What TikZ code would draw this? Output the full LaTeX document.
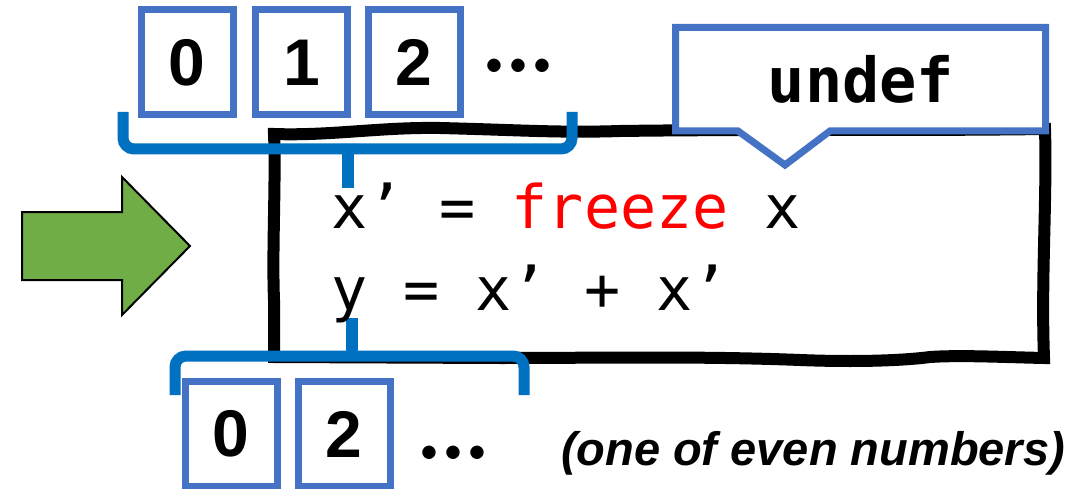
\documentclass[tikz,border=0pt]{standalone}
\usepackage{fontspec}
\setmainfont{Liberation Sans}
\newfontfamily\codefont{DejaVu Sans Mono}
\definecolor{boxblue}{RGB}{68,114,196}
\definecolor{braceblue}{RGB}{0,112,192}
\definecolor{arrowgreen}{RGB}{112,173,71}
\definecolor{codered}{RGB}{255,0,0}
\begin{document}
\begin{tikzpicture}[x=1pt,y=-1pt,
  numbox/.style={draw=boxblue, line width=7pt, minimum width=92pt, minimum height=105pt, inner sep=0pt, fill=white,
    font=\fontsize{66}{70}\selectfont\bfseries},
  dots/.style={anchor=base west, inner sep=0pt, font=\fontfamily{lmr}\fontsize{86}{90}\selectfont\bfseries},
  bracestyle/.style={draw=braceblue, line width=11pt, rounded corners=11pt},
  codeline/.style={anchor=base west, inner sep=0pt, font=\codefont\fontsize{60}{72}\selectfont},
  codebox/.style={draw=black, line width=12pt, line join=miter},
  calloutstyle/.style={draw=boxblue, line width=7pt, fill=white, line join=miter}]
\useasboundingbox (0,0) rectangle (1089,489);
% green arrow
\draw[fill=arrowgreen, draw=black, line width=2pt, line join=miter]
  (22,212) -- (122,212) -- (122,177) -- (190,246) -- (122,315) -- (122,280) -- (22,280) -- cycle;
% hand-drawn code box
\draw[codebox] (274,357) -- (274,300) .. controls (272,250) and (276,180) .. (274,134)
  .. controls (330,136) and (380,127) .. (440,128)
  .. controls (520,130) and (560,133) .. (620,131)
  .. controls (760,129) and (900,131) .. (1045,129)
  .. controls (1047,200) and (1041,280) .. (1044,358)
  .. controls (1000,357) and (960,355) .. (930,357)
  .. controls (900,361) and (850,362) .. (800,360)
  .. controls (700,356) and (600,358) .. (500,358)
  -- cycle;
% top brace
\draw[bracestyle] (123,112) -- (123,149) -- (572,149) -- (572,112);
\draw[draw=braceblue, line width=12pt] (348,149) -- (348,188);
\fill[braceblue] (336,144) .. controls (346,146) and (342,152) .. (342,162) -- (354,162) .. controls (354,152) and (350,146) .. (360,144) -- cycle;
% bottom brace
\draw[bracestyle] (175,395) -- (175,356) -- (524,356) -- (524,395);
\draw[draw=braceblue, line width=12pt] (352,356) -- (352,318);
\fill[braceblue] (340,361) .. controls (350,359) and (346,353) .. (346,343) -- (358,343) .. controls (358,353) and (354,359) .. (364,361) -- cycle;
% callout
\draw[calloutstyle] (675.5,27.5) -- (1045.5,27.5) -- (1045.5,131) -- (830,131) -- (785,165) -- (738,131) -- (675.5,131) -- cycle;
\node[anchor=base, inner sep=0pt, font=\codefont\bfseries\fontsize{62}{72}\selectfont] (undef) at (861,103) {undef};
% code text
\node[codeline] (line1) at (331,228) {x’ = \textcolor{codered}{freeze} x};
\node[codeline] (line2) at (331,310) {y = x’ + x’};
% top boxes
\node[numbox] (t0) at (187,62.5) {0};
\node[numbox] (t1) at (301.5,62.5) {1};
\node[numbox] (t2) at (414,62.5) {2};
\node[dots] (tdots) at (482,73) {.\kern0pt.\kern0pt.};
% bottom boxes
\begin{scope}
\clip (0,0) rectangle (1089,489);
\node[numbox] (b0) at (231,434) {0};
\node[numbox] (b2) at (344,434) {2};
\end{scope}
\node[dots] (bdots) at (417,459) {.\kern0pt.\kern0pt.};
% note
\node[anchor=base, inner sep=0pt, font=\fontsize{47}{54}\selectfont\bfseries\itshape] (note) at (813,465) {(one of even numbers)};
\end{tikzpicture}
\end{document}
